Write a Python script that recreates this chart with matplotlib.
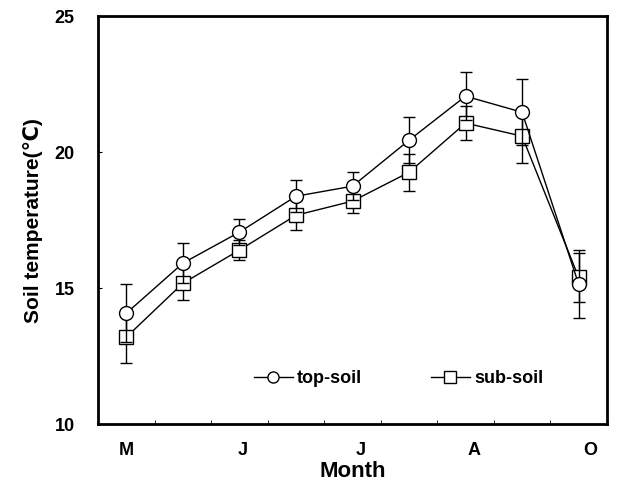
import matplotlib.pyplot as plt
from matplotlib.lines import Line2D
import numpy as np

# dados (meio-mês, maio a outubro)
x_pos = np.arange(9) + 0.5
top_soil = [14.08, 15.92, 17.06, 18.38, 18.75, 20.44, 22.06, 21.47, 15.15]
top_err = [1.07, 0.73, 0.48, 0.59, 0.51, 0.85, 0.88, 1.21, 1.25]
sub_soil = [13.2, 15.18, 16.4, 17.68, 18.2, 19.26, 21.07, 20.59, 15.4]
sub_err = [0.96, 0.6, 0.37, 0.55, 0.45, 0.69, 0.63, 1.0, 0.9]

month_labels = ['M', 'J', 'J', 'A', 'O']
month_pos = [0.5, 2.55, 4.65, 6.65, 8.7]

FONTE = ['Liberation Sans', 'DejaVu Sans']
plt.rcParams['font.family'] = FONTE
plt.rcParams['font.weight'] = 'bold'

fig = plt.figure(figsize=(6.25, 4.92), dpi=100)
ax = fig.add_axes([0.157, 0.138, 0.814, 0.829])

estilo = dict(color='black', linewidth=1, markersize=10, markerfacecolor='white',
              markeredgecolor='black', markeredgewidth=1, ecolor='black',
              elinewidth=1, capsize=4, capthick=1)
ax.errorbar(x_pos, top_soil, yerr=top_err, marker='o', zorder=3, **estilo)
ax.errorbar(x_pos, sub_soil, yerr=sub_err, marker='s', zorder=2, **estilo)

ax.set_xlim(0, 9)
ax.set_ylim(10, 25)
ax.set_yticks([10, 15, 20, 25])
ax.tick_params(axis='y', direction='in', length=3, labelsize=13, pad=17)
ax.set_xticks(month_pos)
ax.set_xticklabels(month_labels)
ax.tick_params(axis='x', which='major', length=0, labelsize=13, pad=13)
ax.set_xticks(np.arange(1, 9), minor=True)
ax.tick_params(axis='x', which='minor', direction='in', length=3)

for lbl in ax.get_xticklabels() + ax.get_yticklabels():
    lbl.set_fontweight('bold')

for s in ax.spines.values():
    s.set_linewidth(2)

ax.set_xlabel('Month', fontsize=16, fontweight='bold', labelpad=1)
ax.set_ylabel('Soil temperature(\u2103)', fontsize=15, fontweight='bold', labelpad=8)

# legenda sem as barras de erro
handles = [
    Line2D([], [], color='black', linewidth=1, marker='o', markersize=8,
           markerfacecolor='white', markeredgecolor='black'),
    Line2D([], [], color='black', linewidth=1, marker='s', markersize=8,
           markerfacecolor='white', markeredgecolor='black'),
]
ax.legend(handles, ['top-soil', 'sub-soil'], loc='lower center',
          bbox_to_anchor=(0.59, 0.05), ncol=2, frameon=False,
          prop={'weight': 'bold', 'size': 13}, handlelength=2.2, handletextpad=0.2,
          columnspacing=3.8)

plt.savefig('out.png', dpi=100)
